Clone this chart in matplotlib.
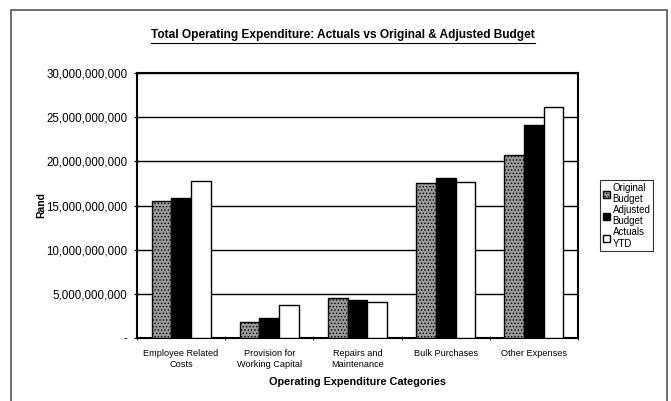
import matplotlib
matplotlib.use("Agg")
import matplotlib.pyplot as plt
import numpy as np
from matplotlib.lines import Line2D
from matplotlib.patches import Rectangle

plt.rcParams['font.family'] = ['Liberation Sans', 'DejaVu Sans']
plt.rcParams['hatch.linewidth'] = 0.6

categories = ["Employee Related\nCosts", "Provision for\nWorking Capital", "Repairs and\nMaintenance",
              "Bulk Purchases", "Other Expenses"]
original_budget = [15.55e9, 1.8e9, 4.55e9, 17.5e9, 20.7e9]
adjusted_budget = [15.8e9, 2.25e9, 4.3e9, 18.1e9, 24.1e9]
actuals_ytd = [17.8e9, 3.7e9, 4.05e9, 17.7e9, 26.1e9]
series_labels = ["Original\nBudget", "Adjusted\nBudget", "Actuals\nYTD"]
yticks = [0, 5e9, 10e9, 15e9, 20e9, 25e9, 30e9]
ytick_labels = ["-", "5,000,000,000", "10,000,000,000", "15,000,000,000",
                "20,000,000,000", "25,000,000,000", "30,000,000,000"]

fig = plt.figure(figsize=(6.71, 4.01), dpi=100)
ax = fig.add_axes([137/671, 1-338/401, (578-137)/671, (338-73)/401])

x = np.arange(len(categories))
w = 0.223
ax.bar(x - w, original_budget, w, facecolor='#9a9a9a', edgecolor='black', hatch='.....',
       linewidth=1.0, label=series_labels[0], zorder=3)
ax.bar(x, adjusted_budget, w, facecolor='black', edgecolor='black', linewidth=1.0,
       label=series_labels[1], zorder=3)
ax.bar(x + w, actuals_ytd, w, facecolor='white', edgecolor='black', linewidth=1.0,
       label=series_labels[2], zorder=3)

ax.set_xlim(-0.5, len(categories) - 0.5)
ax.set_ylim(0, 30e9)
ax.set_yticks(yticks)
ax.set_yticklabels(ytick_labels, fontsize=8.3)
ax.set_xticks(x)
ax.set_xticklabels(categories, fontsize=6.6)
ax.set_xticks(np.arange(len(categories) + 1) - 0.5, minor=True)
ax.tick_params(axis='x', which='major', length=0, pad=8)
ax.tick_params(axis='x', which='minor', length=3, direction='inout')
ax.tick_params(axis='y', length=4, direction='inout', pad=5)
ax.yaxis.grid(True, color='black', linewidth=1.0, zorder=0)
ax.set_axisbelow(True)
for s in ax.spines.values():
    s.set_linewidth(1.5)
    s.set_color('black')

ax.set_ylabel("Rand", fontsize=7.5, fontweight='bold')
ax.yaxis.set_label_coords(-0.205, 0.5)
ax.set_xlabel("Operating Expenditure Categories", fontsize=7.8, fontweight='bold', labelpad=6)

leg = fig.legend(loc='upper left', bbox_to_anchor=(595/671, 1-175/401), fontsize=7.0,
                 frameon=True, fancybox=False, edgecolor='black', handlelength=0.7,
                 handleheight=0.7, handletextpad=0.3, borderpad=0.3, labelspacing=0.05)
leg.get_frame().set_linewidth(0.8)

title = fig.text(343/671, 1-35/401, "Total Operating Expenditure: Actuals vs Original & Adjusted Budget",
                 ha='center', va='center', fontsize=8.6, fontweight='bold')

# outer border
fig.add_artist(Rectangle((11/671, -0.05), (667-11)/671, 1-10/401+0.05, transform=fig.transFigure,
                         fill=False, edgecolor='#555555', linewidth=1.2))

fig.canvas.draw()
bb = title.get_window_extent().transformed(fig.transFigure.inverted())
yline = bb.y0 - 0.004
fig.add_artist(Line2D([bb.x0, bb.x1], [yline, yline], color='black', linewidth=0.8,
                      transform=fig.transFigure))

fig.savefig("out.png", dpi=100)
